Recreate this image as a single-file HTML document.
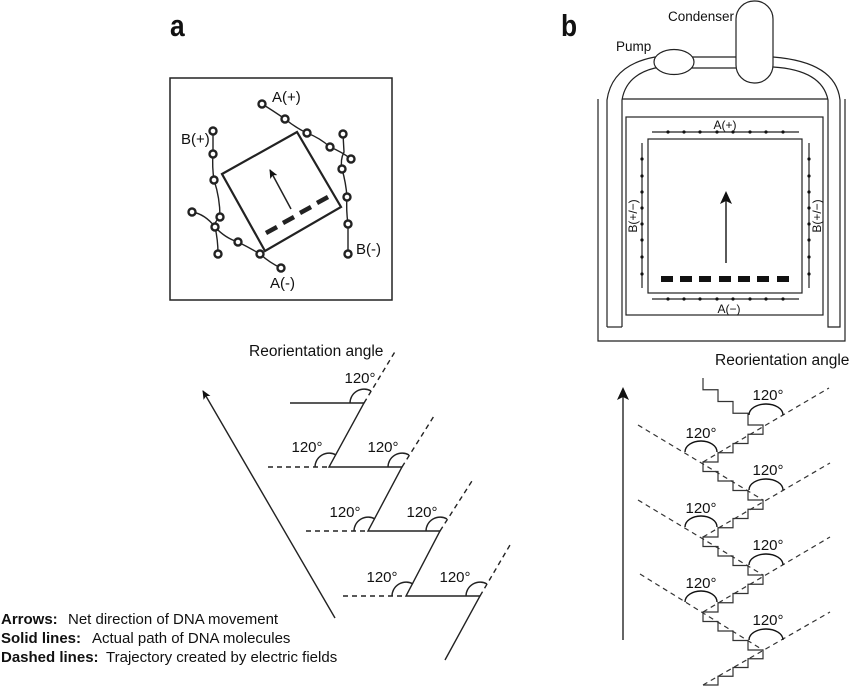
<!DOCTYPE html>
<html><head><meta charset="utf-8"><style>
html,body{margin:0;padding:0;background:#fff}
svg{display:block}
text{font-family:"Liberation Sans",sans-serif;fill:#111}
</style></head><body>
<svg width="850" height="686" viewBox="0 0 850 686" xmlns="http://www.w3.org/2000/svg">
<defs>
<marker id="ah" markerWidth="10" markerHeight="10" refX="8" refY="5" orient="auto" markerUnits="userSpaceOnUse">
<path d="M0,1 L9,5 L0,9 L2,5 Z" fill="#111"/></marker>
<marker id="ah2" markerWidth="14" markerHeight="14" refX="11" refY="7" orient="auto" markerUnits="userSpaceOnUse">
<path d="M0,1 L13,7 L0,13 L3,7 Z" fill="#111"/></marker>
</defs>

<text x="170" y="36" font-size="31" font-weight="bold" transform="translate(170,0) scale(0.85,1) translate(-170,0)">a</text>
<text x="561" y="36" font-size="31" font-weight="bold" transform="translate(561,0) scale(0.85,1) translate(-561,0)">b</text>

<!-- Panel a top -->
<g fill="none" stroke="#222">
<rect x="170" y="78" width="222" height="222" stroke-width="1.5"/>
<polygon points="222,174 297,132 341,207 265,251" stroke-width="2.2"/>
<line x1="291" y1="209" x2="270" y2="170" stroke-width="1.5" marker-end="url(#ah)"/>
<g stroke-width="4.5">
<line x1="266" y1="233" x2="277" y2="227"/>
<line x1="283" y1="223" x2="294" y2="217"/>
<line x1="300" y1="213" x2="311" y2="207"/>
<line x1="317" y1="203" x2="328" y2="197"/>
</g>
<g stroke-width="1.4">
<path d="M262,104 Q272,110 285,119 Q296,128 307,133 Q320,138 330,147 Q342,152 351,159"/>
<path d="M343,134 L344,152 Q340,160 342,169 Q346,183 347,197 Q346,210 348,224 Q348,240 348,254"/>
<path d="M213,131 L213,154 Q212,167 214,180 Q220,198 220,217 Q214,222 215,227 Q218,240 218,254"/>
<path d="M192,212 Q205,214 215,227 Q225,238 238,242 Q250,248 260,254 Q270,263 281,268"/>
</g>
<g stroke-width="2.4" fill="#fff">
<circle cx="262" cy="104" r="3.5"/><circle cx="285" cy="119" r="3.5"/><circle cx="307" cy="133" r="3.5"/><circle cx="330" cy="147" r="3.5"/><circle cx="351" cy="159" r="3.5"/>
<circle cx="343" cy="134" r="3.5"/><circle cx="342" cy="169" r="3.5"/><circle cx="347" cy="197" r="3.5"/><circle cx="348" cy="224" r="3.5"/><circle cx="348" cy="254" r="3.5"/>
<circle cx="213" cy="131" r="3.5"/><circle cx="213" cy="154" r="3.5"/><circle cx="214" cy="180" r="3.5"/><circle cx="220" cy="217" r="3.5"/><circle cx="215" cy="227" r="3.5"/><circle cx="218" cy="254" r="3.5"/>
<circle cx="192" cy="212" r="3.5"/><circle cx="238" cy="242" r="3.5"/><circle cx="260" cy="254" r="3.5"/><circle cx="281" cy="268" r="3.5"/>
</g>
</g>
<g font-size="15">
<text x="272" y="102">A(+)</text>
<text x="181" y="144">B(+)</text>
<text x="356" y="254">B(-)</text>
<text x="270" y="288">A(-)</text>
</g>

<!-- Panel b top -->
<g fill="none" stroke="#222" stroke-width="1.2">
<path d="M607,327 L607,100 Q612,65 655,57 L736,57"/>
<path d="M622,327 L622,100 Q626,75 655,68 L736,68"/>
<path d="M607,327 L622,327"/>
<path d="M773,57 Q836,62 840,100 L840,327 L828,327 L828,100 Q822,70 773,67"/>
<path d="M598,99 L598,341 L845,341 L845,99"/>
<line x1="622" y1="99" x2="828" y2="99"/>
<rect x="736" y="1" width="37" height="82" rx="18" fill="#fff"/>
<ellipse cx="674" cy="62" rx="20" ry="12.5" fill="#fff"/>
<rect x="626" y="117" width="197" height="198"/>
<rect x="648" y="139" width="154" height="154"/>
<line x1="652" y1="132" x2="799" y2="132"/>
<line x1="652" y1="299" x2="799" y2="299"/>
<line x1="642" y1="143" x2="642" y2="288"/>
<line x1="809" y1="143" x2="809" y2="288"/>
<line x1="726" y1="263" x2="726" y2="193" stroke-width="1.5" marker-end="url(#ah2)"/>
</g>
<g fill="#111">
<circle cx="668" cy="132" r="1.6"/><circle cx="684" cy="132" r="1.6"/><circle cx="700" cy="132" r="1.6"/><circle cx="717" cy="132" r="1.6"/><circle cx="733" cy="132" r="1.6"/><circle cx="750" cy="132" r="1.6"/><circle cx="766" cy="132" r="1.6"/><circle cx="783" cy="132" r="1.6"/>
<circle cx="668" cy="299" r="1.6"/><circle cx="684" cy="299" r="1.6"/><circle cx="700" cy="299" r="1.6"/><circle cx="717" cy="299" r="1.6"/><circle cx="733" cy="299" r="1.6"/><circle cx="750" cy="299" r="1.6"/><circle cx="766" cy="299" r="1.6"/><circle cx="783" cy="299" r="1.6"/>
<circle cx="642" cy="159" r="1.6"/><circle cx="642" cy="176" r="1.6"/><circle cx="642" cy="192" r="1.6"/><circle cx="642" cy="208" r="1.6"/><circle cx="642" cy="224" r="1.6"/><circle cx="642" cy="240" r="1.6"/><circle cx="642" cy="257" r="1.6"/><circle cx="642" cy="274" r="1.6"/>
<circle cx="809" cy="159" r="1.6"/><circle cx="809" cy="176" r="1.6"/><circle cx="809" cy="192" r="1.6"/><circle cx="809" cy="208" r="1.6"/><circle cx="809" cy="224" r="1.6"/><circle cx="809" cy="240" r="1.6"/><circle cx="809" cy="257" r="1.6"/><circle cx="809" cy="274" r="1.6"/>
<rect x="661" y="276" width="12" height="6"/><rect x="680" y="276" width="12" height="6"/><rect x="699" y="276" width="12" height="6"/><rect x="719" y="276" width="12" height="6"/><rect x="738" y="276" width="12" height="6"/><rect x="757" y="276" width="12" height="6"/><rect x="777" y="276" width="12" height="6"/>
</g>
<g font-size="13.5">
<text x="668" y="21">Condenser</text>
<text x="616" y="51">Pump</text>
</g>
<g font-size="12" text-anchor="middle">
<text x="725" y="129">A(+)</text>
<text x="729" y="313">A(−)</text>
<text transform="translate(637,216) rotate(-90)">B(+/−)</text>
<text transform="translate(821,216) rotate(-90)">B(+/−)</text>
</g>

<!-- Panel a bottom -->
<g fill="none" stroke="#222" stroke-width="1.4">
<line x1="335" y1="618" x2="203" y2="391" marker-end="url(#ah)"/>
<path d="M290,403 L364,403 L329,467 L402,467 L368,531 L440,531 L406,596 L480,596 L445,660"/>
<g stroke-dasharray="5,4">
<line x1="364" y1="403" x2="396" y2="350"/>
<line x1="402" y1="467" x2="434" y2="416"/>
<line x1="440" y1="531" x2="472" y2="481"/>
<line x1="480" y1="596" x2="510" y2="545"/>
<line x1="268" y1="467" x2="329" y2="467"/>
<line x1="306" y1="531" x2="368" y2="531"/>
<line x1="343" y1="596" x2="406" y2="596"/>
</g>
<path d="M350,403 A14,14 0 0 1 371,391"/>
<path d="M315,467 A14,14 0 0 1 336,455"/>
<path d="M388,467 A14,14 0 0 1 409,455"/>
<path d="M354,531 A14,14 0 0 1 375,519"/>
<path d="M426,531 A14,14 0 0 1 447,519"/>
<path d="M392,596 A14,14 0 0 1 413,584"/>
<path d="M466,596 A14,14 0 0 1 487,584"/>
</g>
<text x="249" y="356" font-size="15.5">Reorientation angle</text>
<g font-size="15" text-anchor="middle">
<text x="360" y="383">120°</text>
<text x="307" y="452">120°</text>
<text x="383" y="452">120°</text>
<text x="345" y="517">120°</text>
<text x="422" y="517">120°</text>
<text x="382" y="582">120°</text>
<text x="455" y="582">120°</text>
</g>

<!-- Panel b bottom -->
<g fill="none" stroke="#333" stroke-width="1.2">
<line x1="623" y1="640" x2="623" y2="389" stroke-width="1.5" marker-end="url(#ah2)"/>
<path d="M703,378 v11.75 h15 v11.75 h15 v11.75 h15 v11.75 h15 v9.25 h-15 v9.25 h-15 v9.25 h-15 v9.25 h-15 v9.5 h15 v9.5 h15 v9.5 h15 v9.5 h15 v9.25 h-15 v9.25 h-15 v9.25 h-15 v9.25 h-15 v9.5 h15 v9.5 h15 v9.5 h15 v9.5 h15 v9.25 h-15 v9.25 h-15 v9.25 h-15 v9.25 h-15 v9.5 h15 v9.5 h15 v9.5 h15 v9.5 h15 v8.75 h-15 v8.75 h-15 v8.75 h-15 v8.75 h-15"/>
<g stroke-dasharray="5,4">
<line x1="703" y1="462" x2="829" y2="388"/>
<line x1="703" y1="537" x2="830" y2="463"/>
<line x1="703" y1="612" x2="830" y2="537"/>
<line x1="703" y1="685" x2="830" y2="612"/>
<line x1="638" y1="425" x2="763" y2="500"/>
<line x1="638" y1="500" x2="763" y2="575"/>
<line x1="640" y1="574" x2="763" y2="650"/>
</g>
<g stroke="#111" stroke-width="1.4">
<path d="M749,415 A17,11 0 0 1 783,415"/>
<path d="M749,490 A17,11 0 0 1 783,490"/>
<path d="M749,565 A17,11 0 0 1 783,565"/>
<path d="M749,640 A17,11 0 0 1 783,640"/>
<path d="M685,452 A16,11 0 0 1 717,452"/>
<path d="M685,527 A16,11 0 0 1 717,527"/>
<path d="M685,602 A16,11 0 0 1 717,602"/>
</g>
</g>
<text x="715" y="365" font-size="15.5">Reorientation angle</text>
<g font-size="15" text-anchor="middle">
<text x="768" y="400">120°</text>
<text x="768" y="475">120°</text>
<text x="768" y="550">120°</text>
<text x="768" y="625">120°</text>
<text x="701" y="438">120°</text>
<text x="701" y="513">120°</text>
<text x="701" y="588">120°</text>
</g>

<!-- Legend -->
<g font-size="15">
<text x="1" y="624" font-weight="bold">Arrows:</text>
<text x="68" y="624">Net direction of DNA movement</text>
<text x="1" y="643" font-weight="bold">Solid lines:</text>
<text x="92" y="643">Actual path of DNA molecules</text>
<text x="1" y="662" font-weight="bold">Dashed lines:</text>
<text x="106" y="662">Trajectory created by electric fields</text>
</g>
</svg>
</body></html>
